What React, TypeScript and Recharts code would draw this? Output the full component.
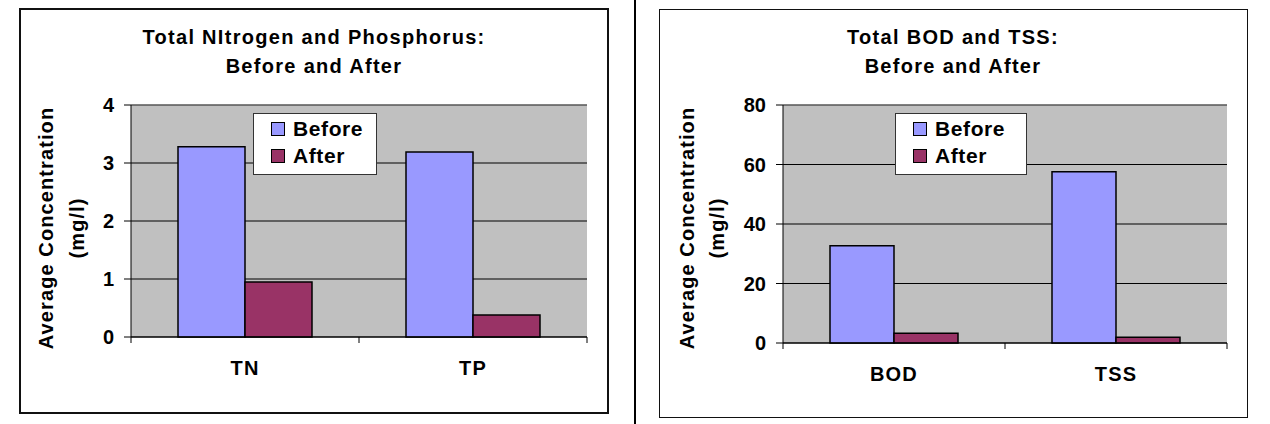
import React from "react"
import { Bar, BarChart, CartesianGrid, Legend, ReferenceLine, XAxis, YAxis } from "recharts"

const FONT = "'Liberation Sans', Arial, sans-serif"

// left panel: nitrogen / phosphorus
const categoriesNP = ["TN", "TP"]
const beforeNP = [3.28, 3.19]
const afterNP = [0.95, 0.38]
const ticksNP = [0, 1, 2, 3, 4]

// right panel: BOD / TSS
const categoriesBT = ["BOD", "TSS"]
const beforeBT = [32.7, 57.6]
const afterBT = [3.3, 1.9]
const ticksBT = [0, 20, 40, 60, 80]

const seriesOrder = ["Before", "After"]

const textStyle = { fontFamily: FONT, fontWeight: "bold", fontSize: 20, fill: "#000" }

function LegendBox({ payload, width }: any) {
  const items = [...(payload || [])].sort((a: any, b: any) => seriesOrder.indexOf(a.value) - seriesOrder.indexOf(b.value))
  return (
    <div
      style={{
        width,
        height: 62,
        boxSizing: "border-box",
        background: "#fff",
        border: "1px solid #333",
        padding: "1px 0 0 0",
        fontFamily: FONT,
        fontWeight: "bold",
        fontSize: 21,
        letterSpacing: 0.6,
      }}
    >
      {items.map((p: any) => (
        <div key={p.value} style={{ display: "flex", alignItems: "center", height: 27, paddingLeft: 17 }}>
          <span
            style={{
              display: "inline-block",
              width: 12,
              height: 12,
              background: p.color,
              border: "1px solid #000",
              marginRight: 8,
            }}
          />
          <span>{p.value}</span>
        </div>
      ))}
    </div>
  )
}

function CategoryTick({ x, y, payload, index, band, count }: any) {
  return (
    <g>
      <line x1={x - band / 2} x2={x - band / 2} y1={y} y2={y + 6} stroke="#000" />
      {index === count - 1 && <line x1={x + band / 2} x2={x + band / 2} y1={y} y2={y + 6} stroke="#000" />}
      <text x={x} y={y + 31} textAnchor="middle" dominantBaseline="central" style={{ ...textStyle, letterSpacing: 1.2 }}>
        {payload.value}
      </text>
    </g>
  )
}

function AxisTitle({ x1, x2, cy }: any) {
  return (
    <g>
      <text
        transform={`translate(${x1},${cy}) rotate(-90)`}
        textAnchor="middle"
        dominantBaseline="central"
        style={{ ...textStyle, fontSize: 20, letterSpacing: 1.1 }}
      >
        Average Concentration
      </text>
      <text
        transform={`translate(${x2},${cy}) rotate(-90)`}
        textAnchor="middle"
        dominantBaseline="central"
        style={{ ...textStyle, fontSize: 20, letterSpacing: 1.1 }}
      >
        (mg/l)
      </text>
    </g>
  )
}

function Panel({ categories, before, after, ticks, title, left, top, width, height, margin, borderWidth, legend, label }: any) {
  const data = categories.map((c: string, i: number) => ({ name: c, Before: before[i], After: after[i] }))
  const yWidth = 60
  const band = (width - margin.left - margin.right - yWidth) / categories.length
  return (
    <>
      <div
        style={{
          position: "absolute",
          left: left - borderWidth / 2,
          top: top - borderWidth / 2,
          width: width + borderWidth,
          height: height + borderWidth,
          boxSizing: "border-box",
          border: `${borderWidth}px solid #111`,
        }}
      />
      <div
        style={{
          position: "absolute",
          left,
          top: top + 14,
          width,
          textAlign: "center",
          fontFamily: FONT,
          fontWeight: "bold",
          fontSize: 20,
          letterSpacing: 1.3,
          lineHeight: "29px",
        }}
      >
        {title.map((t: string) => (
          <div key={t}>{t}</div>
        ))}
      </div>
      <div style={{ position: "absolute", left, top }}>
        <BarChart width={width} height={height} data={data} margin={margin} barCategoryGap={47} barGap={0}>
          <CartesianGrid vertical={false} fill="#C0C0C0" stroke="#000" />
          <XAxis
            dataKey="name"
            height={40}
            tickSize={0}
            tickMargin={0}
            axisLine={{ stroke: "#000" }}
            tick={<CategoryTick band={band} count={categories.length} />}
            interval={0}
          />
          <YAxis
            width={yWidth}
            domain={[ticks[0], ticks[ticks.length - 1]]}
            ticks={ticks}
            tickSize={7}
            tickMargin={10}
            axisLine={{ stroke: "#000" }}
            tickLine={{ stroke: "#000" }}
            tick={textStyle}
            label={{ content: () => <AxisTitle x1={label.x1} x2={label.x2} cy={label.cy} /> }}
          />
          <YAxis yAxisId="border" orientation="right" width={0} tick={false} tickLine={false} axisLine={{ stroke: "#808080" }} />
          <ReferenceLine y={ticks[ticks.length - 1]} stroke="#808080" />
          <Legend
            layout="vertical"
            align="center"
            verticalAlign="middle"
            content={(p: any) => <LegendBox payload={p.payload} width={legend.width} />}
            wrapperStyle={{ position: "absolute", left: legend.left, top: legend.top, width: legend.width }}
          />
          <Bar dataKey="Before" fill="#9999FF" stroke="#000" strokeWidth={1.5} isAnimationActive={false} />
          <Bar dataKey="After" fill="#993366" stroke="#000" strokeWidth={1.5} isAnimationActive={false} />
        </BarChart>
      </div>
    </>
  )
}

export default function App() {
  return (
    <div style={{ position: "absolute", left: 0, top: 0, width: 1270, height: 424, background: "#fff" }}>
      <Panel
        categories={categoriesNP}
        before={beforeNP}
        after={afterNP}
        ticks={ticksNP}
        title={["Total NItrogen and Phosphorus:", "Before and After"]}
        left={20}
        top={9}
        width={588}
        height={404}
        margin={{ top: 96, right: 21, bottom: 36, left: 51 }}
        borderWidth={2}
        legend={{ left: 233, top: 104, width: 124 }}
        label={{ x1: 26, x2: 57, cy: 219 }}
      />
      <div style={{ position: "absolute", left: 634, top: 0, width: 2, height: 424, background: "#000" }} />
      <Panel
        categories={categoriesBT}
        before={beforeBT}
        after={afterBT}
        ticks={ticksBT}
        title={["Total BOD and TSS:", "Before and After"]}
        left={659}
        top={9}
        width={588}
        height={408}
        margin={{ top: 96, right: 20, bottom: 34, left: 64 }}
        borderWidth={1}
        legend={{ left: 236, top: 104, width: 132 }}
        label={{ x1: 28, x2: 58, cy: 219 }}
      />
    </div>
  )
}
